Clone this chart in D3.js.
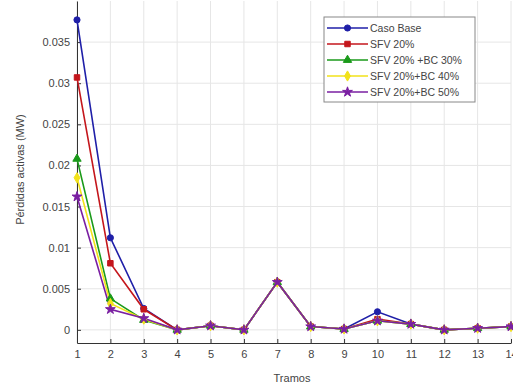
<!DOCTYPE html>
<html>
<head>
<meta charset="utf-8">
<script src="https://cdn.jsdelivr.net/npm/d3@7"></script>
<style>
  body { margin: 0; background: #fff; }
  svg { font-family: "Liberation Sans", Arial, sans-serif; }
</style>
</head>
<body>
<div id="chart"></div>
<script>
const tramos = [1, 2, 3, 4, 5, 6, 7, 8, 9, 10, 11, 12, 13, 14];
const yTicks = [0, 0.005, 0.01, 0.015, 0.02, 0.025, 0.03, 0.035];

const casoBase = [0.0377, 0.0112, 0.0026, 0, 0.0005, 0, 0.0058, 0.0004, 0.0001, 0.0022, 0.0007, 0, 0.0002, 0.0004];
const sfv20 = [0.0307, 0.0081, 0.0025, 0, 0.0005, 0, 0.0058, 0.0004, 0.0001, 0.0013, 0.0007, 0, 0.0002, 0.0004];
const sfvBc30 = [0.0208, 0.0038, 0.0012, 0, 0.0005, 0, 0.0058, 0.0004, 0.0001, 0.0011, 0.0007, 0, 0.0002, 0.0004];
const sfvBc40 = [0.0185, 0.0032, 0.0013, 0, 0.0005, 0, 0.0058, 0.0004, 0.0001, 0.0011, 0.0007, 0, 0.0002, 0.0004];
const sfvBc50 = [0.0162, 0.0025, 0.0014, 0, 0.0005, 0, 0.0058, 0.0004, 0.0001, 0.0011, 0.0007, 0, 0.0002, 0.0004];

const seriesNames = ['Caso Base', 'SFV 20%', 'SFV 20% +BC 30%', 'SFV 20%+BC 40%', 'SFV 20%+BC 50%'];
const seriesValues = [casoBase, sfv20, sfvBc30, sfvBc40, sfvBc50];
const colors = ['#1f1fa8', '#c4161c', '#1a9a1a', '#f2e21a', '#7a1fa2'];
const symbols = [d3.symbolCircle, d3.symbolSquare, d3.symbolTriangle, d3.symbolDiamond, d3.symbolStar];

const W = 513, H = 387;
const margin = {top: 1, right: 2, bottom: 44, left: 77};
const width = W - margin.left - margin.right;
const height = H - margin.top - margin.bottom;

const svg = d3.select('#chart').append('svg')
  .attr('width', W).attr('height', H);
const g = svg.append('g').attr('transform', `translate(${margin.left},${margin.top})`);

const x = d3.scaleLinear().domain([1, 14]).range([0, width]);
const y = d3.scaleLinear().domain([-0.0016, 0.04]).range([height, 0]);

// grid
g.append('g').selectAll('line').data(tramos).enter().append('line')
  .attr('x1', d => x(d)).attr('x2', d => x(d)).attr('y1', 0).attr('y2', height)
  .attr('stroke', '#e6e6e6').attr('stroke-width', 1);
g.append('g').selectAll('line').data(yTicks).enter().append('line')
  .attr('x1', 0).attr('x2', width).attr('y1', d => y(d)).attr('y2', d => y(d))
  .attr('stroke', '#e6e6e6').attr('stroke-width', 1);

// axes
const xAxis = g.append('g').attr('transform', `translate(0,${height})`)
  .call(d3.axisBottom(x).tickValues(tramos).tickFormat(d3.format('d')).tickSize(-4).tickSizeOuter(0));
const yAxis = g.append('g')
  .call(d3.axisLeft(y).tickValues(yTicks).tickFormat(d => d === 0 ? '0' : d3.format('')(+d.toFixed(3))).tickSize(-4).tickSizeOuter(0));
[xAxis, yAxis].forEach(a => {
  a.select('.domain').attr('stroke', '#333');
  a.selectAll('.tick line').attr('stroke', '#333');
  a.selectAll('.tick text').attr('fill', '#444').attr('font-size', 11)
    .attr('font-family', '"Liberation Sans", Arial, sans-serif');
});
xAxis.selectAll('.tick text').attr('dy', '1.1em');
yAxis.selectAll('.tick text').attr('x', -7);

// lines and markers
const line = d3.line().x((d, i) => x(tramos[i])).y(d => y(d));
seriesValues.forEach((vals, s) => {
  g.append('path').datum(vals)
    .attr('d', line).attr('fill', 'none')
    .attr('stroke', colors[s]).attr('stroke-width', 1.6);
});
seriesValues.forEach((vals, s) => {
  g.append('g').selectAll('path').data(vals).enter().append('path')
    .attr('transform', (d, i) => `translate(${x(tramos[i])},${y(d)})`)
    .attr('d', d3.symbol().type(symbols[s]).size(30))
    .attr('fill', colors[s]).attr('stroke', colors[s]).attr('stroke-width', 1);
});

// axis titles
svg.append('text').attr('x', margin.left + width / 2 - 2).attr('y', 382)
  .attr('text-anchor', 'middle').attr('font-size', 11).attr('fill', '#444').text('Tramos');
svg.append('text').attr('transform', `translate(24,${margin.top + y(0.0195)}) rotate(-90)`)
  .attr('text-anchor', 'middle').attr('font-size', 11).attr('fill', '#444').text('Pérdidas activas (MW)');

// legend
const lg = svg.append('g').attr('transform', 'translate(324,17)');
lg.append('rect').attr('width', 151).attr('height', 85)
  .attr('fill', '#fff').attr('stroke', '#888').attr('stroke-width', 1);
seriesNames.forEach((name, s) => {
  const yy = 11 + s * 16;
  lg.append('line').attr('x1', 3).attr('x2', 44).attr('y1', yy).attr('y2', yy)
    .attr('stroke', colors[s]).attr('stroke-width', 1.6);
  lg.append('path').attr('transform', `translate(23.5,${yy})`)
    .attr('d', d3.symbol().type(symbols[s]).size(30))
    .attr('fill', colors[s]).attr('stroke', colors[s]);
  lg.append('text').attr('x', 46).attr('y', yy + 4).attr('font-size', 10.5)
    .attr('fill', '#444').text(name);
});
</script>
</body>
</html>
